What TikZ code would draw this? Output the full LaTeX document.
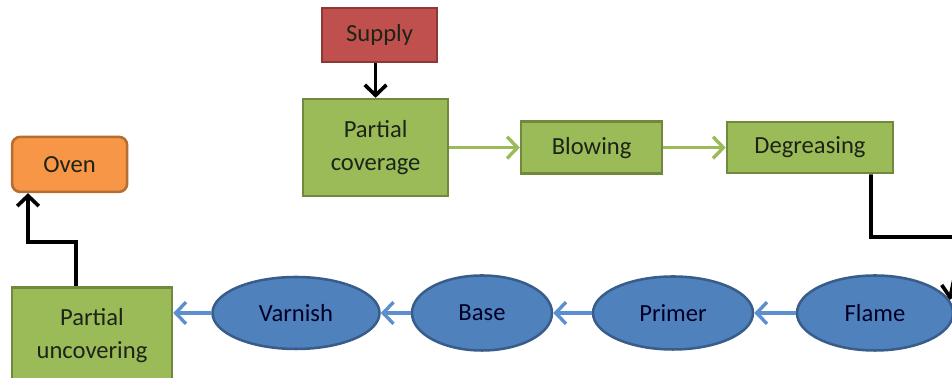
\documentclass[tikz,border=0pt]{standalone}
\usepackage{fontspec}
\setmainfont{Carlito}
\usetikzlibrary{arrows.meta,shapes.geometric}
\definecolor{boxgreen}{HTML}{9BBB59}
\definecolor{edgegreen}{HTML}{71893F}
\definecolor{boxred}{HTML}{C0504D}
\definecolor{edgered}{HTML}{8C3836}
\definecolor{boxorange}{HTML}{F79646}
\definecolor{edgeorange}{HTML}{B66D31}
\definecolor{boxblue}{HTML}{4F81BD}
\definecolor{edgeblue}{HTML}{385D8A}
\definecolor{arrowblue}{HTML}{5B8FD0}
\definecolor{inktext}{HTML}{1C2418}
\begin{document}
\begin{tikzpicture}[>={Straight Barb[length=2.6mm,width=5.4mm]},x=1.0cm,y=1.0cm,
	every node/.style={font=\fontsize{17.5}{23.5}\selectfont,text=inktext,align=center,inner sep=0pt},
	greenbox/.style={draw=edgegreen,fill=boxgreen,line width=1.8pt},
	redbox/.style={draw=edgered,fill=boxred,line width=1.8pt},
	ovenbox/.style={draw=edgeorange,fill=boxorange,line width=1.8pt,rounded corners=0.2cm},
	stage/.style={ellipse,draw=edgeblue,fill=boxblue,line width=1.8pt,text=black!85!blue},
	blackline/.style={draw=black,line width=2.6pt},
	greenarrow/.style={draw=boxgreen,line width=2.4pt},
	bluearrow/.style={draw=arrowblue,line width=2.4pt}]
		\useasboundingbox (0,0) rectangle (23.8,9.45);
		\clip (0,0) rectangle (23.8,9.45);
		% upper row
		\node[redbox,minimum width=2.875cm,minimum height=1.35cm] (sup) at (9.49,8.575) {Supply};
		\node[greenbox,minimum width=3.625cm,minimum height=2.425cm] (pc) at (9.39,5.76) {Partial\\coverage};
		\node[greenbox,minimum width=3.525cm,minimum height=1.3cm] (blow) at (14.79,5.76) {Blowing};
		\node[greenbox,minimum width=4.15cm,minimum height=1.275cm] (deg) at (20.25,5.76) {Degreasing};
		\node[ovenbox,minimum width=2.875cm,minimum height=1.375cm] (oven) at (1.74,5.34) {Oven};
		% lower row
		\node[greenbox,minimum width=4.0cm,minimum height=2.425cm] (pu) at (2.3,1.05) {Partial\\uncovering};
		\node[stage,minimum width=4.175cm,minimum height=1.8cm] (varnish) at (7.4,1.625) {Varnish};
		\node[stage,minimum width=3.5cm,minimum height=1.875cm] (base) at (12.05,1.625) {Base};
		\node[stage,minimum width=4.0cm,minimum height=1.825cm] (primer) at (16.825,1.625) {Primer};
		\node[stage,minimum width=3.9cm,minimum height=1.875cm] (flame) at (21.875,1.625) {Flame};
		\coordinate (uo) at (0.7,3.4);
		\coordinate (df) at (24.075,3.525);
		% connectors
		\draw[blackline,->] (pc.north |- sup.south) -- (pc.north);
		\draw[greenarrow,->] (pc.east) -- (blow.west);
		\draw[greenarrow,->] (blow.east) -- (deg.west);
		\draw[blackline,->] ([xshift=1.525cm]deg.south) |- (df) -- (flame.10);
		\draw[bluearrow,->] (flame.west) -- (primer.east);
		\draw[bluearrow,->] (primer.west) -- (base.east);
		\draw[bluearrow,->] (base.west) -- (varnish.east);
		\draw[bluearrow,->] (varnish.west) -- (varnish.west -| pu.east);
		\draw[blackline,->] ([xshift=1.625cm]pu.north west) |- (uo) -- (uo |- oven.south);
\end{tikzpicture}
\end{document}
